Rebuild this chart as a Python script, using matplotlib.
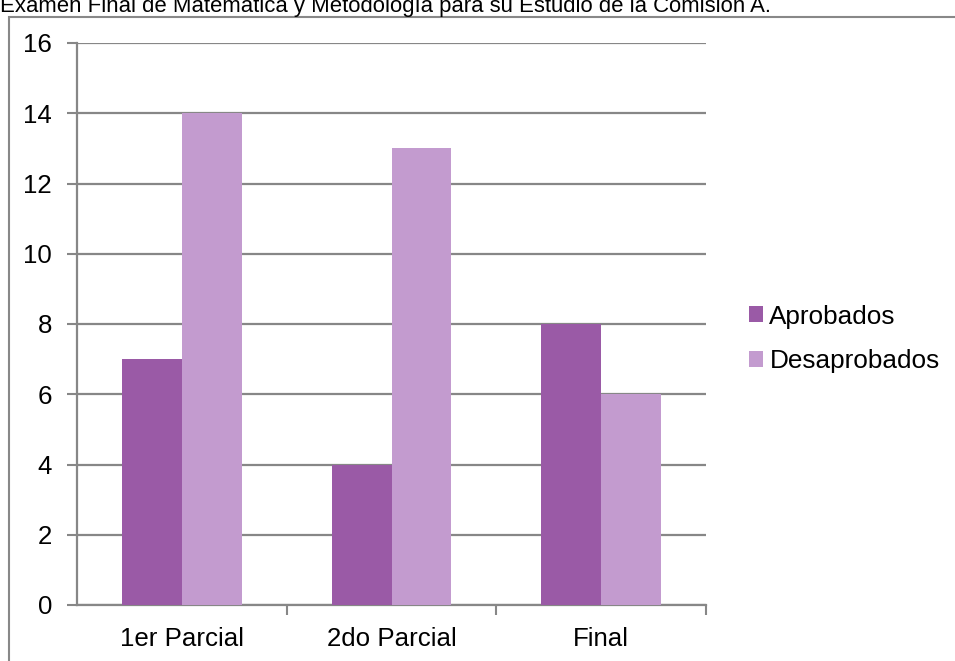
import matplotlib.pyplot as plt
import matplotlib.patches as mpatches
import numpy as np

plt.rcParams["font.family"] = ["Liberation Sans", "DejaVu Sans"]

categories = ["1er Parcial", "2do Parcial", "Final"]
aprobados = [7, 4, 8]
desaprobados = [14, 13, 6]
yticks = [0, 2, 4, 6, 8, 10, 12, 14, 16]

c_apr = "#9a5aa6"
c_des = "#c39bcf"
grid_c = "#878787"

fig = plt.figure(figsize=(9.55, 6.61), dpi=100)
ax = fig.add_axes([77 / 955, 1 - 605 / 661, (706 - 77) / 955, (605 - 43) / 661])

x = np.arange(len(categories))
w = 0.286
ax.bar(x - w / 2, aprobados, w, color=c_apr, label="Aprobados", zorder=3)
ax.bar(x + w / 2, desaprobados, w, color=c_des, label="Desaprobados", zorder=3)

ax.set_xlim(-0.5, 2.5)
ax.set_ylim(0, 16)
ax.set_yticks(yticks)
ax.set_yticklabels([str(v) for v in yticks], fontsize=18.6)
ax.set_xticks(x)
ax.set_xticklabels(categories, fontsize=18.6)
ax.tick_params(axis="x", length=0, pad=15.5)
ax.set_xticks([0.5, 1.5, 2.5], minor=True)
ax.tick_params(axis="x", which="minor", length=7, width=1.5, color=grid_c, direction="out")
ax.tick_params(axis="y", length=7, width=1.5, color=grid_c, pad=11)
ax.yaxis.grid(True, color=grid_c, linewidth=1.6, zorder=0)
ax.set_axisbelow(True)
for s in ["top", "right"]:
    ax.spines[s].set_visible(False)
for s in ["left", "bottom"]:
    ax.spines[s].set_color(grid_c)
    ax.spines[s].set_linewidth(1.6)

fig.legend(loc="center left", bbox_to_anchor=(725 / 955, 1 - 339 / 661),
           frameon=False, fontsize=18.8, handlelength=0.55, handleheight=0.55,
           handletextpad=0.25, labelspacing=0.8)

fig.text(0.0, 1 - 12 / 661, "Examen Final de Matemática y Metodología para su Estudio de la Comisión A.",
         fontsize=15.9, va="baseline", ha="left")

fig.patches.append(mpatches.Rectangle((9 / 955, -0.01), 1.0, 1 - 17 / 661 + 0.01,
                                      transform=fig.transFigure, fill=False,
                                      edgecolor="#888888", linewidth=1.5))

plt.savefig("out.png", dpi=100)
